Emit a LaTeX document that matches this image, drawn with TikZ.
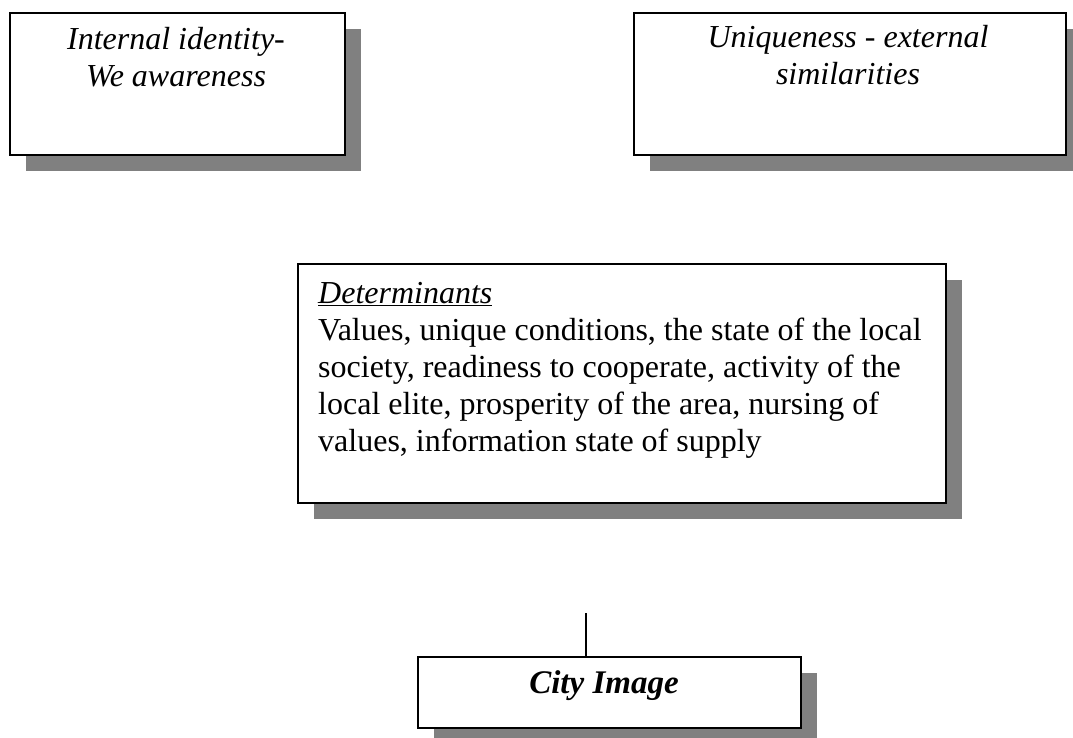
\documentclass[tikz,border=0pt]{standalone}
\usepackage{fontspec}
\setmainfont{Liberation Serif}
\usetikzlibrary{shadows}
\definecolor{shadowgray}{RGB}{128,128,128}
\tikzset{
  box/.style={draw=black, line width=2.2pt, fill=white, inner sep=0pt,
    drop shadow={shadow xshift=16pt, shadow yshift=-16pt, fill=shadowgray, opacity=1}},
  txt/.style={inner sep=0pt, anchor=base, font=\fontsize{32}{37}\selectfont},
  link/.style={draw=black, line width=2.2pt},
}
\begin{document}
\begin{tikzpicture}[x=1pt,y=-1pt]
\clip (0,0) rectangle (1073,738);
\fill[white] (0,0) rectangle (1073,738);
% boxes
\node[box, minimum width=335pt, minimum height=142pt] (b1) at (177.5,84) {};
\node[box, minimum width=432pt, minimum height=142pt] (b2) at (850,84) {};
\node[box, minimum width=648pt, minimum height=239pt] (det) at (622,383.5) {};
\node[box, minimum width=383pt, minimum height=71pt] (city) at (609.5,692.5) {};
% texts
\node[txt] (t1) at (176,50) {\itshape\begin{tabular}[t]{@{}c@{}}Internal identity-\\We awareness\end{tabular}};
\node[txt] (t2) at (848,48) {\itshape\begin{tabular}[t]{@{}c@{}}Uniqueness - external\\similarities\end{tabular}};
\node[txt, anchor=base west] (t3) at (318,303) {\begin{tabular}[t]{@{}l@{}}\underline{\textit{Determinants}}\\
Values, unique conditions, the state of the local\\
society, readiness to cooperate, activity of the\\
local elite, prosperity of the area, nursing of\\
values, information state of supply\end{tabular}};
\node[txt, font=\fontsize{33}{37}\selectfont] (t4) at (604,693) {\bfseries\itshape City Image};
% connector
\coordinate (ctop) at (586,613);
\draw[link] (ctop) -- (ctop |- city.north);
\end{tikzpicture}
\end{document}
